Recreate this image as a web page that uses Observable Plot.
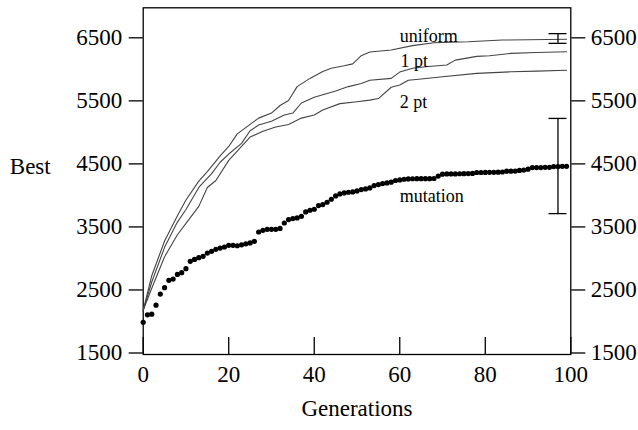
<!DOCTYPE html>
<html><head><meta charset="utf-8">
<script src="https://cdn.jsdelivr.net/npm/d3@7"></script>
<script src="https://cdn.jsdelivr.net/npm/@observablehq/plot@0.6"></script>
<style>body{margin:0;background:#fff}</style>
</head><body><div id="chart"></div>
<script>
// Mutation: best value per generation (0..99)
const mutationBest = [
  2010,2130,2140,2283,2458,2560,2676,2697,2771,2798,
  2861,2978,3009,3036,3057,3109,3136,3168,3189,3205,
  3232,3232,3225,3240,3255,3270,3295,3443,3470,3485,
  3485,3485,3500,3586,3640,3656,3666,3692,3761,3788,
  3804,3863,3878,3915,3963,4015,4047,4063,4074,4079,
  4095,4117,4127,4143,4180,4196,4212,4222,4233,4260,
  4270,4280,4285,4288,4290,4290,4290,4290,4292,4330,
  4360,4365,4365,4365,4367,4368,4370,4372,4387,4387,
  4388,4390,4390,4392,4395,4408,4408,4410,4420,4425,
  4440,4466,4466,4466,4470,4470,4482,4482,4485,4485
];

const uniformGen  = [0,2,5,8,10,13,15,18,20,22,25,27,30,32,34,36,39,42,44,47,49,51,53,58,63,68,72,76,84,90,99];
const uniformBest = [2200,2750,3300,3700,3950,4250,4400,4650,4800,5000,5150,5250,5330,5450,5530,5750,5880,5990,6040,6080,6110,6240,6300,6330,6400,6446,6455,6462,6488,6492,6500];

const onePtGen  = [0,2,5,8,10,13,16,18,20,23,25,27,30,33,35,37,40,42,45,48,51,53,58,60,63,66,71,73,78,81,86,92,99];
const onePtBest = [2200,2650,3200,3600,3800,4150,4370,4550,4680,4850,5050,5140,5200,5300,5330,5490,5580,5620,5680,5750,5800,5850,5880,5980,6040,6064,6092,6170,6230,6240,6277,6290,6303];

const twoPtGen  = [0,2,5,8,10,13,15,17,20,23,25,28,31,34,37,40,42,46,50,53,55,58,60,62,65,70,78,86,92,99];
const twoPtBest = [2200,2550,3050,3400,3580,3850,4150,4260,4580,4800,4950,5040,5110,5150,5250,5300,5380,5480,5510,5535,5560,5740,5775,5850,5870,5906,5959,5985,5995,6010];

const yTicks = [1500,2500,3500,4500,5500,6500];
const xTicks = [0,20,40,60,80,100];

const curveLabels = ["uniform","1 pt","2 pt","mutation"];
const labelGen  = [60,60.2,60,60];
const labelBest = [6554,6157,5496,4012];

const errGen  = [97,97];
const errLow  = [6436,3735];
const errHigh = [6590,5245];

const toRows = (gs, vs) => gs.map((g,i) => ({gen: g, best: vs[i]}));
const mutationRows = mutationBest.map((v,i) => ({gen: i, best: v}));
const labelRows = curveLabels.map((t,i) => ({text: t, gen: labelGen[i], best: labelBest[i]}));
const errRows = errGen.map((g,i) => ({gen: g, low: errLow[i], high: errHigh[i]}));
const capRows = errRows.flatMap(d => [{gen: d.gen, best: d.low}, {gen: d.gen, best: d.high}]);
const capHalf = 2.1;

const W = 638, H = 430, mL = 142.7, mR = 67.7, mT = 7.3, mB = 76;
const frameH = H - mT - mB;
const lineStyle = {x: "gen", y: "best", stroke: "#444", strokeWidth: 1.1};
const fmt = d3.format("d");

const chart = Plot.plot({
  width: W, height: H,
  marginLeft: mL, marginRight: mR, marginTop: mT, marginBottom: mB,
  x: {domain: [0,100]},
  y: {domain: [1500,7000]},
  style: {fontFamily: "'Liberation Serif', 'Times New Roman', serif", fontSize: "23px", background: "white", color: "black"},
  marks: [
    Plot.axisY({anchor: "left", ticks: yTicks, tickFormat: fmt, tickSize: 14, tickPadding: 7, label: null, fontSize: 23, strokeWidth: 1.3, dy: -1.5}),
    Plot.axisY({anchor: "right", ticks: yTicks, tickFormat: fmt, tickSize: 14, tickPadding: 6, label: null, fontSize: 23, strokeWidth: 1.3, dy: -1.5}),
    Plot.axisX({ticks: xTicks, tickFormat: fmt, tickSize: 0, tickPadding: 11, label: null, fontSize: 23}),
    Plot.ruleX(xTicks, {insetTop: frameH - 17, stroke: "black", strokeWidth: 1.3}),
    Plot.frame({stroke: "black", strokeWidth: 1.3}),
    Plot.line(toRows(uniformGen, uniformBest), lineStyle),
    Plot.line(toRows(onePtGen, onePtBest), lineStyle),
    Plot.line(toRows(twoPtGen, twoPtBest), lineStyle),
    Plot.dot(mutationRows, {x: "gen", y: "best", r: 2.6, fill: "black", stroke: "none"}),
    Plot.ruleX(errRows, {x: "gen", y1: "low", y2: "high", stroke: "black", strokeWidth: 1.3}),
    Plot.ruleY(capRows, {y: "best", x1: d => d.gen - capHalf, x2: d => d.gen + capHalf, stroke: "black", strokeWidth: 1.3}),
    Plot.text(labelRows, {x: "gen", y: "best", text: "text", textAnchor: "start", fontSize: 18, fill: "black"}),
    Plot.text(["Best"], {frameAnchor: "top-left", dx: -133.4, dy: 149.4, textAnchor: "start", fontSize: 23, fill: "black"}),
    Plot.text(["Generations"], {frameAnchor: "bottom", dy: 61, fontSize: 23, fill: "black"})
  ]
});
document.getElementById("chart").appendChild(chart);
</script>
</body></html>
